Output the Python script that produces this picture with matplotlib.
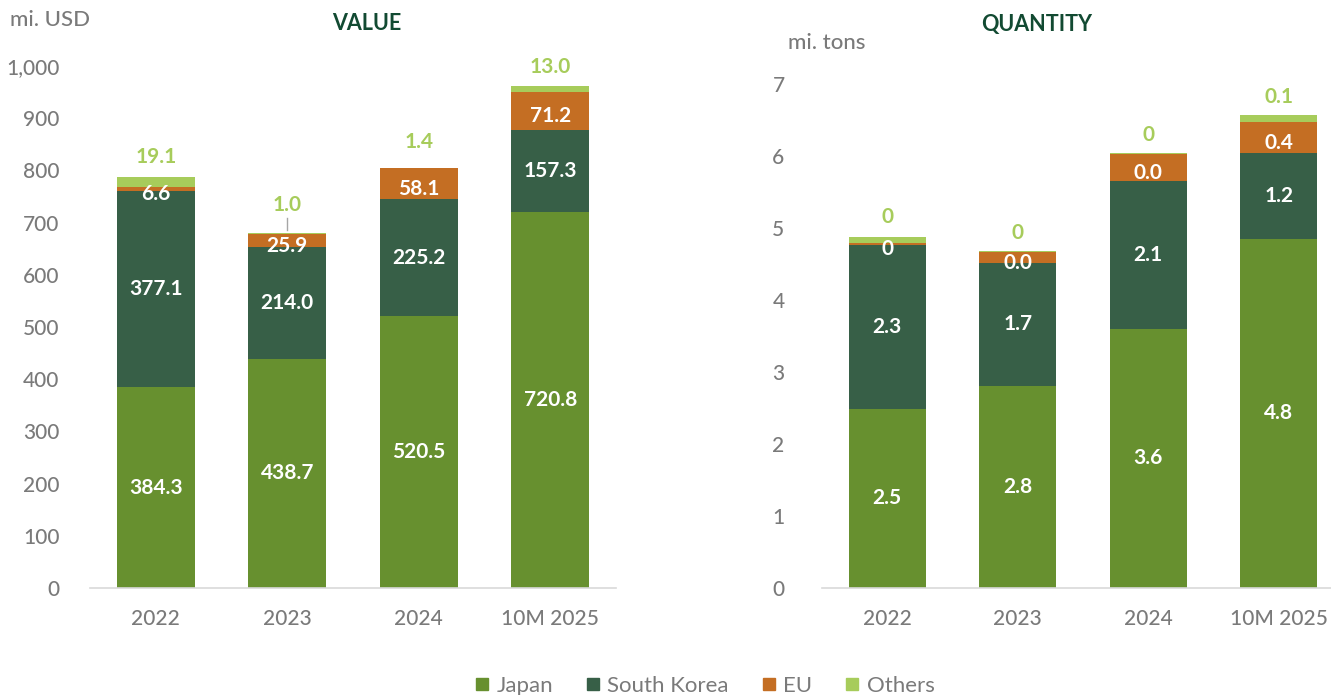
import matplotlib
matplotlib.use("Agg")
import matplotlib.pyplot as plt
from matplotlib.lines import Line2D
from matplotlib import transforms

plt.rcParams['font.family'] = ['Lato', 'DejaVu Sans']

# ---------------- data ----------------
categories = ["2022", "2023", "2024", "10M 2025"]
series_names = ["Japan", "South Korea", "EU", "Others"]

# VALUE (mi. USD)
japan_value = [384.3, 438.7, 520.5, 720.8]
korea_value = [377.1, 214.0, 225.2, 157.3]
eu_value = [6.6, 25.9, 58.1, 71.2]
others_value = [19.1, 1.0, 1.4, 13.0]

# QUANTITY (mi. tons) - bar heights
japan_qty = [2.49, 2.81, 3.60, 4.85]
korea_qty = [2.27, 1.70, 2.05, 1.19]
eu_qty = [0.03, 0.16, 0.38, 0.43]
others_qty = [0.085, 0.01, 0.01, 0.10]
# QUANTITY data labels as printed on the chart
japan_qty_labels = ["2.5", "2.8", "3.6", "4.8"]
korea_qty_labels = ["2.3", "1.7", "2.1", "1.2"]
eu_qty_labels = ["0", "0.0", "0.0", "0.4"]
others_qty_labels = ["0", "0", "0", "0.1"]

value_ticks = [0, 100, 200, 300, 400, 500, 600, 700, 800, 900, 1000]
qty_ticks = [0, 1, 2, 3, 4, 5, 6, 7]

# ---------------- style ----------------
colors = ["#67902F", "#375F47", "#C46E23", "#A7CC5B"]
title_color = "#124A32"
gray = "#7A7A7A"
bar_width = 0.59
FS = 15

W, H = 1331, 695
fig = plt.figure(figsize=(W / 100, H / 100), dpi=100)
fig.patch.set_facecolor("white")

ax1 = fig.add_axes([90 / W, (H - 588) / H, 526 / W, (588 - 66) / H])
ax2 = fig.add_axes([822 / W, (H - 588) / H, 509 / W, (588 - 84) / H])


def style_axis(ax, ticks, fmt, ylim, xlim, pad):
    ax.set_xlim(*xlim)
    ax.set_ylim(*ylim)
    ax.set_yticks(ticks)
    ax.set_yticklabels([fmt(t) for t in ticks])
    ax.set_xticks(range(len(categories)))
    ax.set_xticklabels(categories)
    for s in ["left", "right", "top"]:
        ax.spines[s].set_visible(False)
    ax.spines["bottom"].set_color("#D9D9D9")
    ax.spines["bottom"].set_linewidth(1.2)
    ax.tick_params(axis="y", length=0, pad=pad, labelsize=FS, labelcolor=gray)
    ax.tick_params(axis="x", length=0, pad=15, labelsize=FS, labelcolor=gray)
    for lab in ax.get_xticklabels() + ax.get_yticklabels():
        lab.set_fontweight("medium")
    ax.set_facecolor("none")


def shifted(ax, dy_px):
    return ax.transData + transforms.ScaledTranslation(0, dy_px / 100, fig.dpi_scale_trans)


def draw_stack(ax, series, labels, others_offsets_px, leader_idx=None):
    x = list(range(len(categories)))
    bottoms = [0.0] * len(categories)
    for si, (vals, col) in enumerate(zip(series, colors)):
        ax.bar(x, vals, bottom=bottoms, width=bar_width, color=col,
               linewidth=0, zorder=2)
        if si < 3:
            dy = -5 if si == 2 else 0
            for i, v in enumerate(vals):
                ax.text(x[i], bottoms[i] + v / 2, labels[si][i], ha="center",
                        va="center", color="white", fontsize=FS,
                        fontweight="bold", zorder=3, transform=shifted(ax, dy))
        bottoms = [b + v for b, v in zip(bottoms, vals)]
    tops = bottoms
    for i in x:
        ax.text(i, tops[i], labels[3][i], transform=shifted(ax, others_offsets_px[i]),
                ha="center", va="center", color=colors[3], fontsize=FS,
                fontweight="bold", zorder=3)
        if leader_idx is not None and i == leader_idx:
            p0 = shifted(ax, 3).transform((i, tops[i]))
            p1 = shifted(ax, 15).transform((i, tops[i]))
            fig.add_artist(Line2D([p0[0] / W, p1[0] / W], [p0[1] / H, p1[1] / H],
                                  color="#A6A6A6", linewidth=1.0))


# VALUE chart
style_axis(ax1, value_ticks, lambda t: f"{t:,.0f}", (0, 1000), (-0.5, 3.5), 22)
value_labels = [[f"{v:.1f}" for v in s] for s in
                [japan_value, korea_value, eu_value, others_value]]
draw_stack(ax1, [japan_value, korea_value, eu_value, others_value],
           value_labels, [20, 28, 26, 19], leader_idx=1)

# QUANTITY chart
style_axis(ax2, qty_ticks, lambda t: f"{t:d}", (0, 7), (-0.5, 3.4), 27)
draw_stack(ax2, [japan_qty, korea_qty, eu_qty, others_qty],
           [japan_qty_labels, korea_qty_labels, eu_qty_labels, others_qty_labels],
           [20, 18, 18, 18])

# titles and units
fig.text(367 / W, 1 - 24 / H, "VALUE", ha="center", va="center",
         color=title_color, fontsize=15.5, fontweight="bold")
fig.text(1037 / W, 1 - 24 / H, "QUANTITY", ha="center", va="center",
         color=title_color, fontsize=15.5, fontweight="bold")
fig.text(10 / W, 1 - 20 / H, "mi. USD", ha="left", va="center",
         color=gray, fontsize=16, fontweight="medium")
fig.text(788 / W, 1 - 43 / H, "mi. tons", ha="left", va="center",
         color=gray, fontsize=16, fontweight="medium")

# legend
handles = [Line2D([0], [0], marker="s", linestyle="none", markersize=8.5,
                  markerfacecolor=c, markeredgecolor=c) for c in colors]
fig.legend(handles, series_names, loc="center", bbox_to_anchor=(705 / W, 1 - 686 / H),
           ncol=4, frameon=False, fontsize=16, labelcolor=gray,
           handlelength=0.6, handletextpad=0.35, columnspacing=1.5,
           borderpad=0, borderaxespad=0)

fig.savefig("out.png", dpi=100, facecolor="white")
